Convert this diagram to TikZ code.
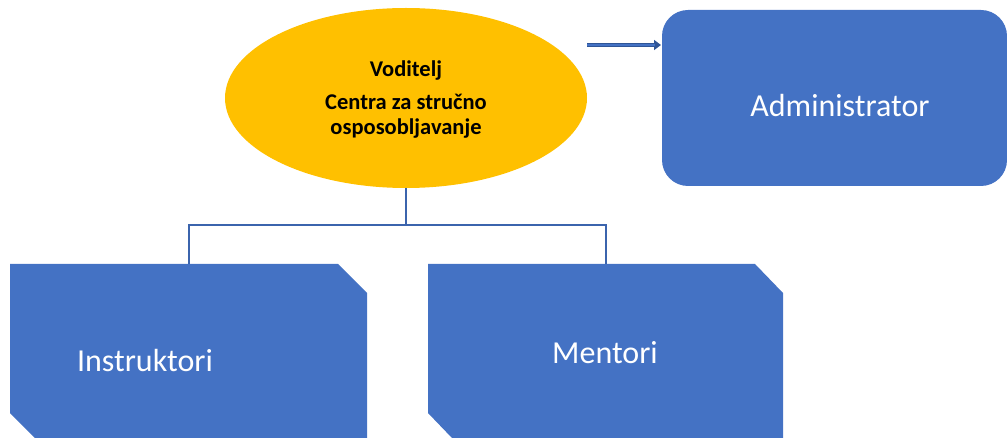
\documentclass[tikz,border=0pt]{standalone}
\usepackage{fontspec}
\setmainfont{Carlito}
\usetikzlibrary{shapes.geometric,arrows.meta}
\definecolor{boxblue}{HTML}{4472C4}
\definecolor{lineblue}{HTML}{3B64AD}
\definecolor{darkblue}{HTML}{2F5597}
\definecolor{gold}{HTML}{FFC000}
\tikzset{
  boxtext/.style={text=white,font=\fontsize{32}{36}\selectfont,inner sep=0pt},
  vtext/.style={font=\bfseries\fontsize{22.5}{26}\selectfont,inner sep=0pt,anchor=base},
  tree/.style={draw=lineblue,line width=2pt},
}
\begin{document}
\begin{tikzpicture}[x=1pt,y=-1pt]
\useasboundingbox (0,0) rectangle (1007,438);
% ellipse
\node[ellipse,fill=gold,minimum width=362pt,minimum height=180pt,inner sep=0pt] (vod) at (406,98) {};
\node[vtext] (t1) at (406,77) {Voditelj};
\node[vtext] (t2) at (406,110) {Centra za stručno};
\node[vtext] (t3) at (406,135) {osposobljavanje};
% administrator
\node[fill=boxblue,rounded corners=26pt,minimum width=345pt,minimum height=176pt,inner sep=0pt] (adm) at (834.5,98) {};
\node[boxtext] (admt) at (840,106) {Administrator};
% arrow
\coordinate (as) at (587,45);
\coordinate (ae) at (661,45);
\draw[darkblue,line width=4pt,-{Triangle[length=7pt,width=10pt]}] (as) -- (ae);
\draw[boxblue,line width=2pt,shorten >=6pt] (as) -- (ae);
% snipped boxes
\fill[boxblue] (10,264) -- (338,264) -- (367,293) -- (367,438) -- (35,438) -- (10,413) -- cycle;
\fill[boxblue] (428,264) -- (755,264) -- (783,293) -- (783,438) -- (452,438) -- (428,413) -- cycle;
\coordinate (ins) at (189,264);
\coordinate (men) at (606,264);
\node[boxtext] (instr) at (145,361) {Instruktori};
\node[boxtext] (ment) at (605,353) {Mentori};
% tree connectors
\coordinate (bus) at (406,225);
\draw[tree] (vod.south) -- (bus);
\draw[tree] (ins) -- (189,225) -- (606,225) -- (men);
\end{tikzpicture}
\end{document}
